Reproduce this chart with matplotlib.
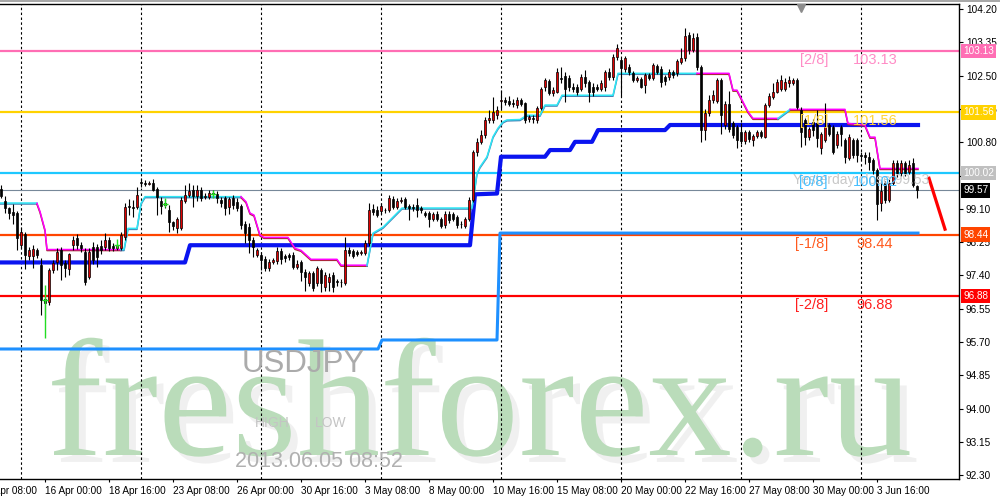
import numpy as np
import matplotlib
matplotlib.use('Agg')
import matplotlib.pyplot as plt
import matplotlib.patheffects as pe
from matplotlib.transforms import offset_copy
from matplotlib.patches import Rectangle

plt.rcParams['font.family'] = ['Liberation Sans', 'DejaVu Sans']

"""
Data: USDJPY H4 candles, bar 0 = Mon 15 Apr 2013 00:00
"""
first_bar = -5

bar_open = [
    99.60, 99.30, 99.11, 99.03, 98.99, 98.17, 98.45, 97.90, 97.90, 98.04,
    97.66, 96.80, 96.72, 97.53, 97.75, 98.04, 97.71, 97.55, 98.17, 98.35,
    98.17, 98.00, 97.36, 98.13, 98.12, 98.14, 98.13, 98.30, 98.14, 98.10,
    98.10, 98.38, 99.17, 99.14, 99.14, 99.79, 99.77, 99.74, 99.76, 99.60,
    99.30, 99.20, 99.07, 98.77, 98.62, 98.60, 99.30, 99.45, 99.58, 99.43,
    99.58, 99.40, 99.41, 99.50, 99.48, 99.32, 99.37, 99.15, 99.37, 99.28,
    99.17, 98.72, 98.64, 98.30, 97.92, 97.92, 97.83, 97.58, 97.75, 97.77,
    98.03, 97.90, 97.93, 97.92, 97.62, 97.75, 97.49, 97.20, 97.45, 97.20,
    97.53, 97.11, 97.23, 97.40, 97.25, 97.24, 97.20, 98.04, 98.03, 98.00,
    97.97, 97.96, 98.22, 99.10, 99.08, 99.05, 99.08, 99.07, 99.34, 99.15,
    99.30, 99.34, 99.17, 99.15, 99.20, 99.12, 99.00, 98.99, 98.85, 98.98,
    98.83, 98.68, 98.98, 98.96, 98.88, 98.70, 98.65, 98.85, 99.32, 100.55,
    100.81, 100.98, 101.38, 101.37, 101.50, 101.85, 101.87, 101.86, 101.80, 101.75,
    101.88, 101.79, 101.40, 101.43, 101.37, 101.67, 102.22, 102.37, 102.05, 102.09,
    102.45, 102.49, 102.45, 102.22, 102.20, 102.17, 102.47, 102.34, 102.20, 102.20,
    102.17, 102.22, 102.60, 102.47, 102.98, 102.90, 102.68, 102.73, 102.56, 102.38,
    102.41, 102.26, 102.51, 102.43, 102.75, 102.68, 102.47, 102.47, 102.60, 102.56,
    102.85, 102.94, 103.54, 103.15, 103.50, 102.73, 101.11, 101.55, 101.88, 101.85,
    102.38, 101.24, 101.77, 101.28, 101.20, 101.07, 100.82, 101.07, 100.85, 100.95,
    101.05, 100.94, 101.75, 101.96, 102.09, 102.15, 102.17, 102.30, 102.30, 102.39,
    101.62, 101.37, 100.94, 101.32, 101.28, 100.66, 100.85, 101.24, 101.20, 100.73,
    101.20, 100.85, 100.40, 100.85, 100.85, 100.47, 100.48, 100.43, 100.34, 100.10,
    99.26, 99.75, 99.32, 99.77, 100.28, 100.02, 100.28, 100.05, 100.28, 99.68,
]
bar_high = [
    99.72, 99.42, 99.15, 99.22, 99.05, 98.64, 98.50, 98.13, 98.17, 98.10,
    97.84, 96.95, 97.58, 97.80, 98.10, 98.12, 97.78, 97.98, 98.40, 98.45,
    98.25, 98.10, 98.10, 98.25, 98.20, 98.30, 98.49, 98.38, 98.22, 98.20,
    98.50, 99.25, 99.35, 99.33, 99.66, 99.88, 99.83, 99.82, 99.85, 99.65,
    99.41, 99.35, 99.20, 98.80, 98.88, 99.40, 99.72, 99.76, 99.70, 99.72,
    99.65, 99.50, 99.58, 99.58, 99.55, 99.40, 99.42, 99.40, 99.45, 99.38,
    99.22, 98.80, 98.75, 98.38, 98.10, 98.00, 97.90, 97.82, 97.85, 98.12,
    98.10, 97.95, 97.98, 98.00, 97.78, 97.80, 97.55, 97.50, 97.50, 97.65,
    97.60, 97.48, 97.45, 97.48, 97.30, 97.30, 98.38, 98.12, 98.08, 98.05,
    98.06, 98.30, 99.25, 99.22, 99.18, 99.25, 99.12, 99.45, 99.42, 99.38,
    99.40, 99.40, 99.22, 99.22, 99.37, 99.18, 99.05, 99.05, 99.02, 99.05,
    98.88, 99.05, 99.05, 99.02, 98.95, 98.78, 98.90, 99.40, 100.60, 100.90,
    101.10, 101.45, 101.62, 101.96, 101.72, 102.13, 101.95, 101.98, 101.90, 101.96,
    101.93, 101.83, 101.50, 101.50, 101.72, 102.22, 102.45, 102.42, 102.20, 102.70,
    102.73, 102.60, 102.52, 102.30, 102.28, 102.53, 102.65, 102.40, 102.30, 102.28,
    102.38, 102.65, 102.70, 103.05, 103.30, 102.95, 103.00, 102.80, 102.62, 102.50,
    102.47, 102.56, 102.58, 102.82, 102.80, 102.75, 102.52, 102.68, 102.65, 102.92,
    103.20, 103.71, 103.62, 103.58, 103.60, 102.78, 101.65, 102.00, 102.13, 102.45,
    102.45, 101.85, 102.10, 101.35, 101.25, 101.30, 101.12, 101.12, 101.00, 101.12,
    101.10, 101.80, 102.05, 102.30, 102.42, 102.51, 102.45, 102.50, 102.45, 102.45,
    101.70, 101.42, 101.20, 101.40, 101.62, 101.07, 101.79, 101.30, 101.25, 101.08,
    101.25, 100.90, 101.00, 100.92, 100.92, 100.55, 100.55, 100.55, 100.40, 100.15,
    99.80, 99.80, 99.85, 100.35, 100.35, 100.35, 100.32, 100.35, 100.40, 99.72,
]
bar_low = [
    99.38, 98.99, 98.84, 98.70, 98.05, 98.09, 97.55, 97.80, 97.58, 97.85,
    96.40, 96.30, 96.65, 97.45, 97.53, 97.28, 97.36, 97.40, 98.05, 98.08,
    98.00, 97.15, 97.30, 97.70, 97.62, 97.95, 98.05, 98.02, 98.02, 98.05,
    98.05, 98.30, 98.94, 98.90, 99.10, 99.66, 99.68, 99.70, 99.55, 98.94,
    98.98, 99.12, 98.52, 98.55, 98.47, 98.55, 99.25, 99.40, 99.15, 99.30,
    99.30, 99.35, 99.35, 99.40, 99.25, 99.15, 98.94, 98.98, 99.10, 99.05,
    98.58, 98.22, 97.96, 97.87, 97.88, 97.53, 97.50, 97.50, 97.68, 97.70,
    97.68, 97.75, 97.80, 97.55, 97.55, 97.25, 97.01, 97.12, 97.00, 97.12,
    96.98, 97.00, 97.00, 96.98, 97.12, 97.10, 97.15, 97.90, 97.85, 97.90,
    97.92, 97.92, 98.15, 98.95, 98.88, 98.98, 99.00, 99.02, 99.10, 99.10,
    99.25, 99.10, 98.82, 99.05, 98.90, 99.00, 98.88, 98.64, 98.78, 98.78,
    98.60, 98.62, 98.75, 98.78, 98.62, 98.62, 98.60, 98.80, 99.28, 100.45,
    100.75, 100.92, 101.30, 101.30, 101.40, 101.62, 101.75, 101.72, 101.70, 101.68,
    101.72, 101.30, 101.32, 101.28, 101.30, 101.62, 102.10, 102.00, 101.98, 102.05,
    102.30, 101.83, 102.10, 102.08, 102.00, 102.10, 102.22, 101.83, 101.98, 102.10,
    102.12, 102.12, 102.40, 102.40, 102.90, 101.98, 102.60, 102.52, 102.35, 102.33,
    102.18, 102.05, 102.38, 102.38, 102.55, 102.22, 102.25, 102.40, 102.45, 102.50,
    102.80, 102.88, 103.05, 103.10, 102.65, 100.81, 100.85, 101.48, 101.80, 101.80,
    101.02, 101.15, 101.05, 100.90, 100.65, 100.75, 100.75, 100.80, 100.70, 100.90,
    100.90, 100.90, 101.70, 101.90, 102.05, 102.10, 102.10, 102.20, 102.25, 101.65,
    100.68, 100.73, 100.85, 100.95, 100.68, 100.51, 100.80, 100.95, 100.50, 100.65,
    100.70, 100.26, 100.35, 100.40, 100.30, 100.35, 100.25, 100.10, 100.00, 98.82,
    99.05, 99.25, 99.28, 99.70, 99.90, 99.95, 99.95, 100.00, 99.65, 99.37,
]
bar_close = [
    99.42, 99.11, 98.99, 98.95, 98.35, 98.51, 97.92, 98.04, 98.07, 97.92,
    96.77, 96.70, 97.53, 97.71, 98.00, 97.66, 97.58, 97.94, 98.30, 98.18,
    98.10, 97.23, 98.00, 97.80, 97.88, 98.04, 98.30, 98.10, 98.09, 98.14,
    98.43, 99.15, 99.14, 99.11, 99.45, 99.75, 99.73, 99.77, 99.58, 99.41,
    99.17, 99.25, 98.77, 98.65, 98.83, 99.32, 99.45, 99.56, 99.43, 99.58,
    99.38, 99.42, 99.51, 99.48, 99.37, 99.24, 99.11, 99.34, 99.20, 99.12,
    98.68, 98.47, 98.30, 98.13, 98.04, 97.79, 97.58, 97.75, 97.78, 98.03,
    97.83, 97.85, 97.88, 97.62, 97.70, 97.49, 97.36, 97.45, 97.08, 97.58,
    97.20, 97.40, 97.36, 97.11, 97.22, 97.22, 98.04, 97.97, 97.90, 97.94,
    98.00, 98.22, 99.08, 99.02, 98.94, 99.17, 99.06, 99.37, 99.15, 99.30,
    99.33, 99.15, 99.12, 99.12, 99.07, 99.08, 98.94, 98.83, 98.96, 98.83,
    98.66, 98.98, 98.81, 98.85, 98.68, 98.72, 98.83, 99.32, 100.55, 100.81,
    100.98, 101.38, 101.42, 101.58, 101.62, 101.88, 101.82, 101.78, 101.77, 101.88,
    101.78, 101.37, 101.44, 101.40, 101.67, 102.17, 102.39, 102.05, 102.13, 102.60,
    102.41, 102.17, 102.22, 102.15, 102.09, 102.47, 102.30, 102.09, 102.08, 102.17,
    102.30, 102.60, 102.47, 102.98, 103.20, 102.70, 102.94, 102.60, 102.39, 102.44,
    102.22, 102.51, 102.43, 102.77, 102.60, 102.34, 102.36, 102.60, 102.52, 102.87,
    102.96, 103.52, 103.15, 103.46, 102.73, 101.11, 101.55, 101.88, 102.00, 102.38,
    101.49, 101.77, 101.15, 100.98, 100.85, 100.82, 101.07, 100.88, 100.95, 101.05,
    100.97, 101.75, 101.98, 102.09, 102.34, 102.39, 102.34, 102.39, 102.39, 101.71,
    101.05, 100.94, 101.15, 101.11, 100.90, 101.02, 101.20, 101.02, 100.55, 101.02,
    101.02, 100.42, 100.94, 100.47, 100.47, 100.45, 100.42, 100.30, 100.10, 99.22,
    99.55, 99.32, 99.77, 100.28, 100.02, 100.28, 100.02, 100.22, 99.72, 99.57,
]

# trailing stop line (bar index, price) and bars where it flips colour
trail_idx = [-5.25, 4, 4.75, 6, 6.5, 25, 25.75, 26.75, 29, 30, 31, 55, 56.25, 57.25,
             58.25, 59.75, 60.75, 66.75, 68.5, 70, 72.5, 79, 80, 86.5, 88, 90.5, 94,
             95.25, 112.75, 114, 114.75, 116.5, 118, 119.25, 120.5, 121.5, 124.75,
             126.5, 129.75, 131, 134, 135.25, 148, 149.25, 169, 177, 178, 179, 181.75,
             183, 189.25, 192.25, 206, 206.75, 211, 212.25, 213.5, 214.75, 224.25]
trail_val = [99.24, 99.24, 99.03, 98.56, 98.06, 98.06, 98.06, 98.60, 98.60, 99.24,
             99.41, 99.41, 99.28, 98.99, 98.94, 98.43, 98.37, 98.37, 98.09, 98.04,
             97.81, 97.81, 97.66, 97.66, 98.48, 98.63, 98.99, 99.12, 99.12, 100.01,
             100.17, 100.43, 100.94, 101.16, 101.32, 101.37, 101.38, 101.49, 101.49,
             101.75, 101.75, 102.00, 102.00, 102.56, 102.56, 102.56, 102.13, 102.13,
             101.58, 101.41, 101.41, 101.64, 101.64, 101.28, 101.24, 100.93, 100.93,
             100.13, 100.13]
trail_flip = [4, 25, 55, 86.5, 169, 189.25, 192.25]

# thick blue step line
blue_idx = [-5.25, 41, 42.25, 112.25, 113.5, 119, 120, 131, 132.25, 137.25,
            138.5, 142.75, 144.25, 161, 162.25, 224.25]
blue_val = [97.73, 97.73, 98.17, 98.17, 99.47, 99.49, 100.43, 100.43, 100.60,
            100.60, 100.81, 100.81, 101.11, 101.11, 101.24, 101.24]

# dodger blue step line
dodger_idx = [-5.25, 89.25, 90.25, 119, 119.75, 224.25]
dodger_val = [95.52, 95.52, 95.75, 95.75, 98.48, 98.48]

# green signal marks
signal_idx = [6, 24, 36, 48]
signal_hi = [97.15, 98.33, 99.37, 99.58]
signal_lo = [95.80, 98.10, 99.14, 99.37]
signal_mid = [96.77, 98.17, 99.22, 99.48]

# Murrey levels
level_names = ['[2/8]', '[1/8]', '[0/8]', '[-1/8]', '[-2/8]']
level_values = [103.13, 101.56, 100.02, 98.44, 96.88]
level_colors = ['#FF6EB4', '#FFD200', '#1EC8FF', '#FF4500', '#FF0000']
level_text_colors = ['#FF8CC6', '#FFD43A', '#45BFFF', '#FF5A1E', '#FF1E1E']
level_box_colors = ['#FF6EB4', '#FFD200', '#C0C0C0', '#FF4500', '#FF0000']

bid_price = 99.57
yesterday_close = 99.53

forecast_idx = [227, 231]
forecast_val = [99.88, 98.58]

week_starts = [0, 30, 60, 90, 120, 150, 180, 210]
xtick_pos = [6, 22, 38, 54, 70, 86, 102, 118, 134, 150, 166, 182, 198, 214]
xtick_labels = ['16 Apr 00:00', '18 Apr 16:00', '23 Apr 08:00', '26 Apr 00:00',
                '30 Apr 16:00', '3 May 08:00', '8 May 00:00', '10 May 16:00',
                '15 May 08:00', '20 May 00:00', '22 May 16:00', '27 May 08:00',
                '30 May 00:00', '3 Jun 16:00']
ytick_vals = [92.30, 93.15, 94.00, 94.85, 95.70, 96.55, 97.40, 98.25, 99.10,
              99.95, 100.80, 101.65, 102.50, 103.35, 104.20]

"""
Plotting
"""
fig = plt.figure(figsize=(10, 5), dpi=100)
fig.patch.set_facecolor('white')
fig.add_artist(Rectangle((0, 1 - 2 / 500), 1, 2 / 500, transform=fig.transFigure,
                         color='#A8A8A8', lw=0))
ax = fig.add_axes([0, 21 / 500, 959 / 1000, 475 / 500])
ax.set_xlim(-5.25, 234.5)
ax.set_ylim(92.20, 104.33)
ax.spines['left'].set_visible(False)
for s in ['top', 'right', 'bottom']:
    ax.spines[s].set_linewidth(1.0)

# axes ticks
ax.yaxis.tick_right()
ax.set_yticks(ytick_vals)
ax.set_yticklabels(['%.2f' % v for v in ytick_vals])
ax.tick_params(axis='y', direction='out', length=3, width=0.8, pad=2, labelsize=7.2)
ax.set_xticks(xtick_pos)
ax.set_xticklabels(xtick_labels)
ax.tick_params(axis='x', direction='out', length=2.5, width=0.8, pad=2.5, labelsize=7.2)
for lbl in ax.get_xticklabels():
    lbl.set_ha('left')
ax.text(-10, 0, '11 Apr 08:00', fontsize=7.2, ha='left', va='top', clip_on=False,
        transform=offset_copy(ax.get_xaxis_transform(), fig=fig, x=0, y=-5, units='points'))

# watermark
ax.text(47 / 1000, 1 - 455 / 500, 'freshforex.ru', transform=fig.transFigure,
        fontsize=120, family='Liberation Serif', color='#BADCBA', zorder=0.5,
        path_effects=[pe.SimplePatchShadow(offset=(5, -5), shadow_rgbFace='#9A9A9A', alpha=0.14),
                      pe.Normal()])
ax.text(242 / 1000, 1 - 372 / 500, 'USDJPY', transform=fig.transFigure, fontsize=22.5,
        color='#ABABAB', zorder=6)
ax.text(255 / 1000, 1 - 427 / 500, 'HIGH', transform=fig.transFigure, fontsize=10,
        color='#C4C4C4', zorder=6)
ax.text(315 / 1000, 1 - 427 / 500, 'LOW', transform=fig.transFigure, fontsize=10,
        color='#C4C4C4', zorder=6)
ax.text(235 / 1000, 1 - 467 / 500, '2013.06.05 08:52', transform=fig.transFigure,
        fontsize=15.5, color='#B0B0B0', zorder=6)

# weekly separators
for w in week_starts:
    ax.axvline(w, color='black', lw=0.8, ls=(0, (2.2, 2.2)), zorder=1)

# levels
for v, col in zip(level_values, level_colors):
    ax.axhline(v, color=col, lw=1.6, zorder=2)
ax.axhline(bid_price, color='#778899', lw=0.8, zorder=2)

# indicator lines
ax.plot(dodger_idx, dodger_val, color='#1E90FF', lw=2.2, zorder=3)
ax.plot(blue_idx, blue_val, color='#0A14F0', lw=3.0, zorder=3)

shadow = offset_copy(ax.transData, fig=fig, x=0, y=-1, units='dots')
t_idx = np.array(trail_idx)
t_val = np.array(trail_val)
bounds = [trail_idx[0]] + trail_flip + [trail_idx[-1]]
for k in range(len(bounds) - 1):
    m = (t_idx >= bounds[k]) & (t_idx <= bounds[k + 1])
    if k % 2 == 0:
        col, scol = '#2EE6F5', '#4682B4'
    else:
        col, scol = '#FF00FF', '#A52A2A'
    ax.plot(t_idx[m], t_val[m], color=scol, lw=1.1, zorder=3, transform=shadow)
    ax.plot(t_idx[m], t_val[m], color=col, lw=1.1, zorder=3.1)

# candles
idx = np.arange(first_bar, first_bar + len(bar_close))
o = np.array(bar_open)
c = np.array(bar_close)
hi = np.maximum(np.array(bar_high), np.maximum(o, c))
lo = np.minimum(np.array(bar_low), np.minimum(o, c))
up = c >= o
ax.vlines(idx, lo, hi, color='black', lw=0.8, zorder=4)
body_h = np.maximum(np.abs(c - o), 0.02)
ax.bar(idx, body_h, bottom=np.minimum(o, c), width=0.72,
       color=np.where(up, '#E00000', 'black'), edgecolor='black', linewidth=0.5, zorder=5)

# signal marks
ax.vlines(signal_idx, signal_lo, signal_hi, color='#22DD22', lw=1.0, zorder=5.5)
ax.plot(signal_idx, signal_mid, ls='none', marker='_', ms=4, mew=1.0, color='#22DD22', zorder=5.5)

# level texts
for name, v, tcol in zip(level_names, level_values, level_text_colors):
    ax.text(201.75, v - 0.23, name, color=tcol, fontsize=10.5, ha='right', va='center', zorder=7)
    ax.text(213.5, v - 0.23, '%.2f' % v, color=tcol, fontsize=10.5, ha='center', va='center', zorder=7)
ax.text(193, 99.83, 'Yesterday close %.2f' % yesterday_close, color='#C8C8C8', fontsize=10,
        ha='left', va='center', zorder=6.5)

# forecast stroke
ax.plot(forecast_idx, forecast_val, color='#FF0000', lw=2.3, zorder=6)

# shift marker
ax.plot(195, 0.991, marker='v', ms=6, color='#8C8C8C', clip_on=False,
        transform=ax.get_xaxis_transform(), zorder=8)

# price boxes on the right scale
ylab = ax.get_yaxis_transform()
for v, bcol in zip(level_values, level_box_colors):
    ax.text(1 + 4 / 959, v, '%.2f' % v, transform=ylab, fontsize=7.2, color='white',
            ha='left', va='center', clip_on=False, zorder=10,
            bbox=dict(boxstyle='square,pad=0.22', fc=bcol, ec='none'))
ax.text(1 + 4 / 959, bid_price, '%.2f' % bid_price, transform=ylab, fontsize=7.2,
        color='white', ha='left', va='center', clip_on=False, zorder=10,
        bbox=dict(boxstyle='square,pad=0.22', fc='black', ec='none'))

fig.savefig('out.png', dpi=100)
